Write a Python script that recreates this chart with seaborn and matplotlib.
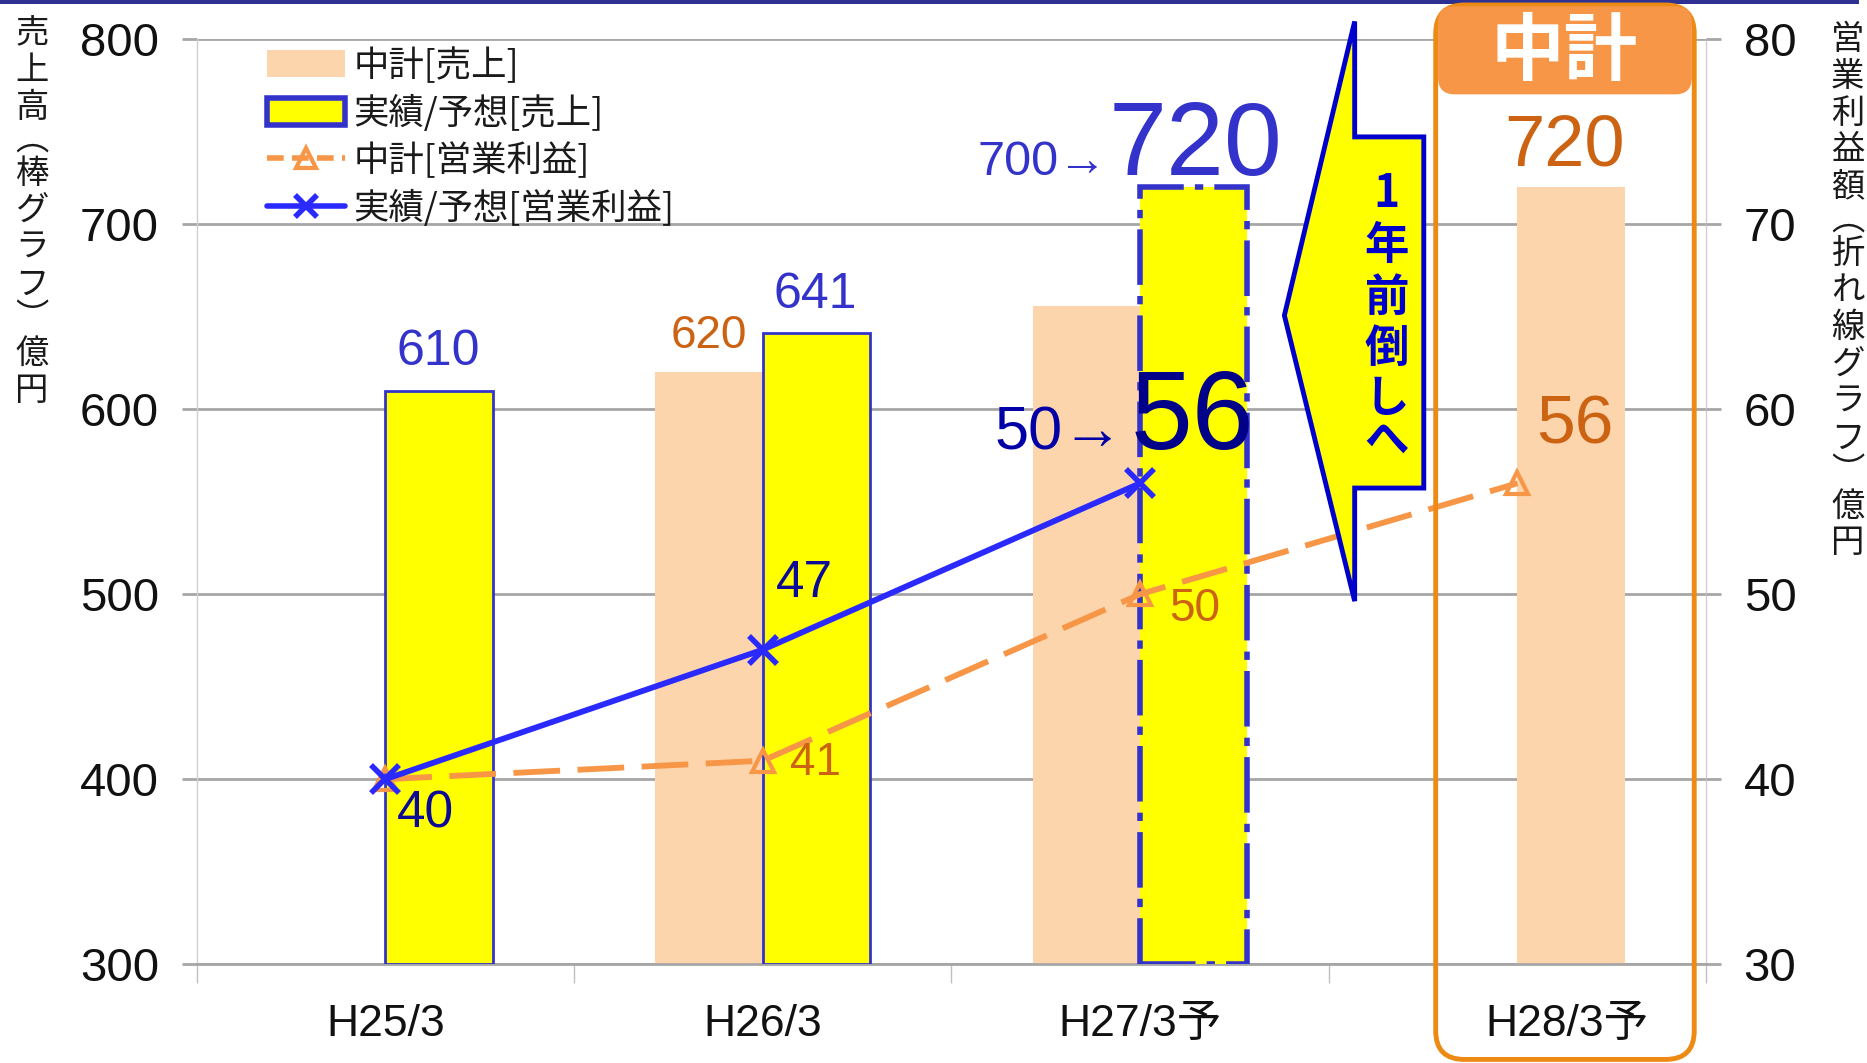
import numpy as np
import pandas as pd
import matplotlib
matplotlib.use("Agg")
import matplotlib.pyplot as plt
import matplotlib.transforms as mtrans
import seaborn as sns
from matplotlib.patches import Polygon, FancyBboxPatch, Rectangle, Patch
from matplotlib.lines import Line2D

# ---------------- data ----------------
categories = ["H25/3", "H26/3", "H27/3予", "H28/3予"]
plan_sales = [np.nan, 620, 656, 720]      # 中計[売上]
actual_sales = [610, 641, 720, np.nan]    # 実績/予想[売上]
plan_profit = [40, 41, 50, 56]            # 中計[営業利益]
actual_profit = [40, 47, 56, np.nan]      # 実績/予想[営業利益]
left_ticks = [300, 400, 500, 600, 700, 800]
right_ticks = [30, 40, 50, 60, 70, 80]
legend_labels = ["中計[売上]", "実績/予想[売上]", "中計[営業利益]", "実績/予想[営業利益]"]

# ---------------- style ----------------
sns.set_theme(style="white")
plt.rcParams['font.family'] = ['Liberation Sans', 'Noto Sans CJK JP', 'DejaVu Sans']
CJK = ['Noto Sans CJK JP', 'DejaVu Sans']

BEIGE = '#fcd5ac'
YELLOW = '#ffff00'
BAR_EDGE = '#3333cc'
BLUE = '#2a2aff'
ORANGE = '#f79646'
ORANGE_TXT = '#cc6312'
NAVY_TXT = '#0a0a96'
GRID = '#a6a6a6'

W_PX, H_PX = 1867, 1063
DW, DH = 1567, 893          # reference measured in this scale
S = W_PX / DW

fig = plt.figure(figsize=(W_PX / 100, H_PX / 100), dpi=100)
ax = fig.add_axes([165 / DW, 1 - 810 / DH, (1432 - 165) / DW, (810 - 33) / DH])
ax2 = ax.twinx()

def F(px, py):
    return (px / DW, 1 - py / DH)

x = np.arange(len(categories))
bw = 90 / 316.75

ps = np.array(plan_sales, dtype=float)
acs = np.array(actual_sales, dtype=float)
# plan bar sits left of the actual bar; alone it takes the right slot
plan_off = np.where(np.isnan(acs), 0.0, -bw)

ax.bar(x + plan_off, ps - left_ticks[0], bottom=left_ticks[0], width=bw, align='edge',
       color=BEIGE, edgecolor='none', zorder=2)
forecast = np.array(['予' in c for c in categories])
for i in range(len(categories)):
    if np.isnan(acs[i]):
        continue
    if forecast[i]:
        ax.bar(x[i], acs[i] - left_ticks[0], bottom=left_ticks[0], width=bw, align='edge',
               color=YELLOW, edgecolor=BAR_EDGE, linewidth=4,
               linestyle=(0, (10, 2, 1.5, 2)), zorder=3)
    else:
        ax.bar(x[i], acs[i] - left_ticks[0], bottom=left_ticks[0], width=bw, align='edge',
               color=YELLOW, edgecolor=BAR_EDGE, linewidth=2, zorder=3)

ax.set_xlim(-0.5, len(categories) - 0.5)
ax.set_ylim(left_ticks[0], left_ticks[-1])
ax.set_yticks(left_ticks)
ax.grid(axis='y', color=GRID, linewidth=2)
ax.grid(axis='x', visible=False)
ax.set_axisbelow(True)

tick_pos = x.astype(float)
tick_pos[-1] += 0.13
ax.set_xticks(tick_pos)
ax.set_xticklabels(categories)
ax.set_xticks(np.arange(-0.5, len(categories), 1.0), minor=True)
ax.tick_params(axis='x', which='major', length=0, pad=29, labelsize=32, labelcolor='#111111')
ax.tick_params(axis='x', which='minor', length=14, width=1, color='#c0c0c0', bottom=True)
ax.tick_params(axis='y', length=11, width=2, color=GRID, labelsize=34, pad=16, labelcolor='#111111', left=True)
for sname, sp in ax.spines.items():
    if sname == 'top':
        sp.set_visible(False)
    elif sname == 'bottom':
        sp.set_color(GRID); sp.set_linewidth(2)
    else:
        sp.set_color('#d0d0d0'); sp.set_linewidth(1)

# ---------------- lines ----------------
dfp = pd.DataFrame({'x': x, 'v': plan_profit})
sns.lineplot(data=dfp, x='x', y='v', ax=ax2, color=ORANGE, linewidth=4.2, marker='^',
             markersize=16, markerfacecolor='none', markeredgecolor=ORANGE,
             markeredgewidth=3, zorder=4)
ax2.lines[-1].set_dashes([8, 3])
apf = np.array(actual_profit, dtype=float)
dfa = pd.DataFrame({'x': x[~np.isnan(apf)], 'v': apf[~np.isnan(apf)]})
sns.lineplot(data=dfa, x='x', y='v', ax=ax2, color=BLUE, linewidth=4.2, marker='x',
             markersize=20, markeredgecolor=BLUE, markeredgewidth=4, zorder=5)

ax2.set_ylim(right_ticks[0], right_ticks[-1])
ax2.set_yticks(right_ticks)
ax2.set_xlim(-0.5, len(categories) - 0.5)
ax2.grid(False)
ax2.set_xlabel(''); ax2.set_ylabel(''); ax.set_xlabel(''); ax.set_ylabel('')
ax2.tick_params(axis='y', length=11, width=2, color=GRID, labelsize=34, pad=16, labelcolor='#111111', right=True)
for sp in ax2.spines.values():
    sp.set_visible(False)

# ---------------- value labels ----------------
def t(a, xx, yy, s, color, size, ha='center', va='center', **kw):
    a.text(xx, yy, s, color=color, fontsize=size, ha=ha, va=va, zorder=10, **kw)

t(ax, 0.141, 631, f"{actual_sales[0]}", BAR_EDGE, 36)
t(ax, 1.139, 662, f"{actual_sales[1]}", BAR_EDGE, 36)
t(ax, 0.858, 639.5, f"{plan_sales[1]}", ORANGE_TXT, 33)
t(ax, 1.913, 726.4, "700→", BAR_EDGE, 35, ha='right', va='baseline')
t(ax, 1.918, 726.4, f"{actual_sales[2]}", BAR_EDGE, 75, ha='left', va='baseline')
t(ax, 3.124, 741.8, f"{plan_sales[3]}", ORANGE_TXT, 52)

t(ax2, 1.956, 57.85, "50→", '#0000a6', 44, ha='right', va='baseline')
t(ax2, 1.976, 57.85, f"{actual_profit[2]}", '#000088', 80, ha='left', va='baseline')
t(ax2, 1.110, 50.6, f"{actual_profit[1]}", NAVY_TXT, 37)
t(ax2, 0.106, 38.1, f"{actual_profit[0]}", NAVY_TXT, 37)
t(ax2, 1.139, 40.9, f"{plan_profit[1]}", ORANGE_TXT, 33)
t(ax2, 2.146, 49.2, f"{plan_profit[2]}", ORANGE_TXT, 33)
t(ax2, 3.153, 59.1, f"{plan_profit[3]}", ORANGE_TXT, 50)

# ---------------- legend ----------------
handles = [
    Patch(facecolor=BEIGE, edgecolor='none'),
    Patch(facecolor=YELLOW, edgecolor=BAR_EDGE, linewidth=4),
    Line2D([0], [0], color=ORANGE, lw=4, dashes=[3, 1.5], marker='^', ms=14,
           mfc='none', mec=ORANGE, mew=3),
    Line2D([0], [0], color=BLUE, lw=4, marker='x', ms=16, mec=BLUE, mew=4),
]
leg = fig.legend(handles, legend_labels, loc='upper left', bbox_to_anchor=F(224, 40),
                 bbox_transform=fig.transFigure, frameon=False, borderpad=0, borderaxespad=0,
                 handlelength=2.2, handleheight=0.8, handletextpad=0.25, labelspacing=0.3,
                 prop={'family': CJK, 'size': 25.5})
for tx in leg.get_texts():
    tx.set_color('#1a1a1a')

# ---------------- vertical axis titles ----------------
left_chars = list("売上高︵棒グラフ︶億円")
left_y = [28, 59, 90, 118, 146, 177, 208, 239, 267, 297, 328]
for ch, yy in zip(left_chars, left_y):
    fig.text(*F(27, yy), ch, fontsize=24, ha='center', va='center', family=CJK, color='#1a1a1a')
right_chars = list("営業利益額︵折れ線グラフ︶億円")
right_y = [33, 64, 95, 126, 157, 185, 213, 244, 275, 306, 337, 368, 396, 425, 456]
for ch, yy in zip(right_chars, right_y):
    fig.text(*F(1551, yy), ch, fontsize=24, ha='center', va='center', family=CJK, color='#1a1a1a')

# ---------------- decorations ----------------
ident = mtrans.IdentityTransform()
# top navy rule
fig.add_artist(Rectangle((0, (DH - 4) * S), 1560 * S, 4 * S, transform=ident,
                         facecolor='#2e3192', edgecolor='none', zorder=20))
# callout arrow
arrow_pts = [F(1137, 18), F(1137, 115), F(1195, 115), F(1195, 410), F(1137, 410),
             F(1137, 505), F(1078, 265)]
fig.add_artist(Polygon(arrow_pts, closed=True, transform=fig.transFigure, facecolor=YELLOW,
                       edgecolor='#0000cc', linewidth=3.5, joinstyle='miter', zorder=20))
for ch, yy in zip(list("1年前倒しへ"), [163, 207, 250, 293, 335, 370]):
    fig.text(*F(1164, yy), ch, fontsize=32, fontweight='bold', ha='center', va='center',
             family=CJK, color='#0000cc', zorder=21)
# orange frame around the plan year
fig.add_artist(FancyBboxPatch((1205 * S, (DH - 890) * S), (1422 - 1205) * S, (890 - 5) * S,
                              boxstyle=f"round,pad=0,rounding_size={24 * S}", transform=ident,
                              facecolor='none', edgecolor='#ec8a14', linewidth=3.5, zorder=20))
fig.add_artist(FancyBboxPatch((1207 * S, (DH - 80) * S), (1420 - 1207) * S, (80 - 6) * S,
                              boxstyle=f"round,pad=0,rounding_size={14 * S}", transform=ident,
                              facecolor=ORANGE, edgecolor='none', zorder=21))
fig.text(*F(1313, 44), "中計", fontsize=53, fontweight='bold', ha='center', va='center',
         family=CJK, color='white', zorder=22)

fig.savefig("out.png", dpi=100)
